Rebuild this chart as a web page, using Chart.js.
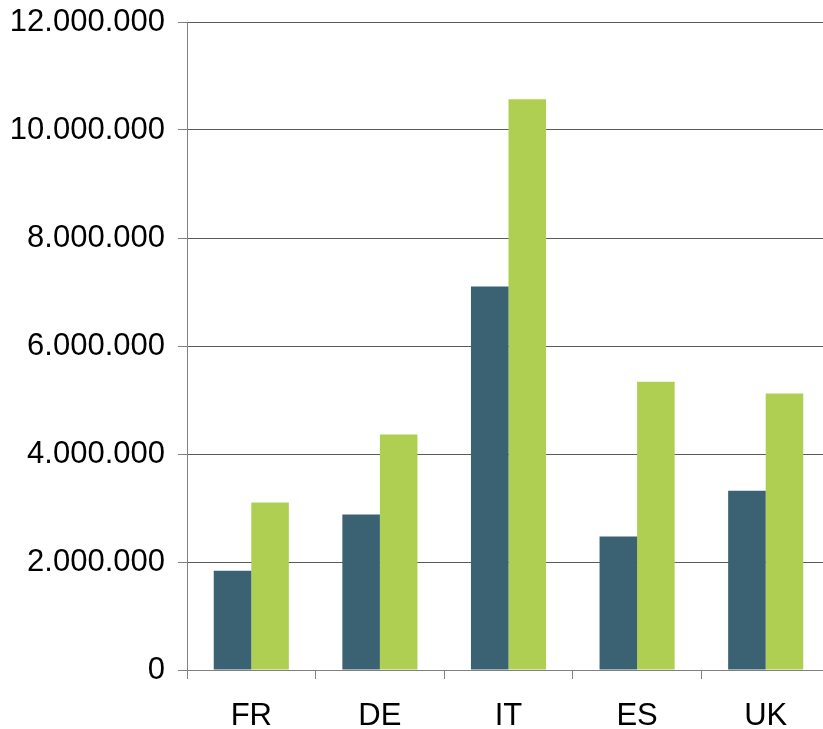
<!DOCTYPE html>
<html>
<head>
<meta charset="utf-8">
<script src="https://cdn.jsdelivr.net/npm/chart.js@4"></script>
<style>
    html, body { margin: 0; padding: 0; background: #fff; overflow: hidden; }
    #wrap { width: 830px; height: 729px; }
</style>
</head>
<body>
<div id="wrap"><canvas id="mycanvas" width="830" height="729"></canvas></div>
<script>
var countries = ['FR', 'DE', 'IT', 'ES', 'UK'];
var seriesDark = [1840000, 2880000, 7100000, 2470000, 3320000];
var seriesGreen = [3100000, 4360000, 10570000, 5340000, 5120000];
var yTicks = [0, 2000000, 4000000, 6000000, 8000000, 10000000, 12000000];

function formatDots(v) {
    return String(v).replace(/\B(?=(\d{3})+(?!\d))/g, '.');
}

var chartdata = {
    labels: countries,
    datasets: [
        {
            label: 'Series 1',
            backgroundColor: '#3b6273',
            data: seriesDark
        },
        {
            label: 'Series 2',
            backgroundColor: '#afcf52',
            data: seriesGreen
        }
    ]
};

var ctx = document.getElementById('mycanvas');

var barGraph = new Chart(ctx, {
    type: 'bar',
    data: chartdata,
    options: {
        responsive: false,
        animation: false,
        layout: { padding: { top: 22, left: 0, right: 0, bottom: 0 } },
        datasets: {
            bar: { categoryPercentage: 0.584, barPercentage: 1.0 }
        },
        plugins: {
            legend: { display: false },
            tooltip: { enabled: false }
        },
        scales: {
            x: {
                grid: {
                    offset: true,
                    drawOnChartArea: false,
                    tickLength: 9,
                    tickColor: '#808080'
                },
                border: { color: '#808080', width: 1 },
                ticks: {
                    color: '#000',
                    padding: 19,
                    font: { family: 'Liberation Sans, Arial, sans-serif', size: 31 }
                },
                afterFit: function (scale) {
                    scale.height = 59;
                    scale.paddingLeft = 0;
                    scale.paddingRight = 0;
                }
            },
            y: {
                min: 0,
                max: 12000000,
                afterBuildTicks: function (scale) {
                    scale.ticks = yTicks.map(function (v) { return { value: v }; });
                },
                grid: {
                    color: '#5a5a5a',
                    tickLength: 9,
                    tickColor: '#808080'
                },
                border: { color: '#808080', width: 1 },
                ticks: {
                    color: '#000',
                    padding: 13,
                    font: { family: 'Liberation Sans, Arial, sans-serif', size: 31 },
                    callback: function (v) { return formatDots(v); }
                },
                afterFit: function (scale) {
                    scale.width = 187;
                    scale.paddingTop = 0;
                    scale.paddingBottom = 0;
                }
            }
        }
    }
});
</script>
</body>
</html>
